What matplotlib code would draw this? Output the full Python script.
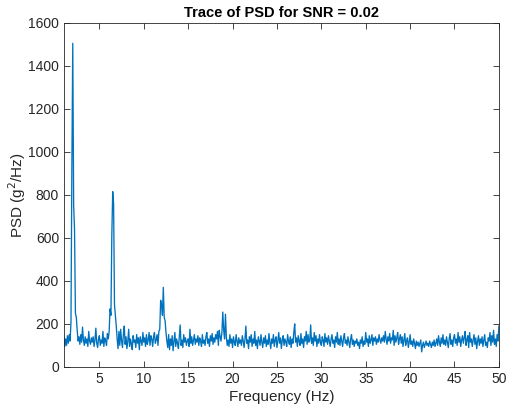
import numpy as np
import matplotlib.pyplot as plt

plt.rcParams['font.family'] = ['Liberation Sans', 'DejaVu Sans']

# frequency axis: 1 to 50 Hz, 0.1 Hz step
freq = np.round(np.arange(1.0, 50.05, 0.1), 1)

# PSD values (g^2/Hz), one row per Hz
psd = [
    140, 95, 130, 100, 145, 110, 150, 120, 210, 930,
    1505, 750, 640, 250, 230, 170, 120, 140, 105, 150,
    115, 185, 125, 100, 140, 110, 130, 95, 165, 120,
    105, 135, 115, 140, 95, 125, 180, 110, 90, 130,
    145, 100, 125, 110, 165, 95, 135, 120, 100, 155,
    130, 165, 270, 240, 610, 815, 760, 290, 240, 190,
    130, 85, 165, 100, 175, 120, 90, 150, 190, 105,
    140, 85, 120, 175, 95, 130, 110, 80, 145, 115,
    125, 90, 150, 110, 135, 80, 140, 120, 100, 160,
    115, 135, 95, 150, 105, 125, 160, 100, 145, 130,
    95, 140, 160, 110, 125, 150, 100, 165, 175, 310,
    290, 240, 370, 230, 215, 160, 120, 90, 150, 80,
    130, 100, 145, 75, 115, 160, 95, 130, 110, 85,
    140, 195, 100, 125, 90, 150, 115, 135, 100, 120,
    130, 95, 175, 110, 140, 100, 125, 150, 105, 130,
    115, 145, 100, 135, 120, 95, 150, 110, 125, 100,
    140, 160, 110, 130, 95, 145, 120, 155, 105, 135,
    115, 150, 130, 165, 100, 170, 140, 120, 160, 255,
    170, 130, 245, 140, 100, 125, 95, 150, 110, 130,
    90, 140, 115, 100, 150, 120, 95, 135, 110, 125,
    100, 145, 120, 90, 130, 190, 110, 125, 85, 140,
    115, 150, 95, 130, 110, 165, 100, 125, 85, 140,
    120, 100, 150, 115, 90, 135, 110, 145, 95, 125,
    105, 155, 115, 85, 130, 110, 150, 95, 125, 140,
    90, 120, 160, 110, 135, 85, 125, 145, 100, 130,
    115, 95, 150, 120, 105, 140, 90, 130, 110, 160,
    200, 115, 135, 95, 145, 120, 100, 155, 110, 130,
    90, 140, 120, 165, 105, 150, 115, 125, 195, 110,
    135, 100, 160, 120, 145, 95, 130, 110, 150, 115,
    100, 140, 125, 95, 155, 115, 135, 105, 145, 120,
    95, 130, 150, 110, 125, 90, 140, 115, 160, 105,
    130, 100, 145, 120, 95, 135, 155, 110, 125, 100,
    140, 115, 90, 130, 150, 105, 125, 95, 120, 110,
    130, 100, 115, 85, 125, 110, 140, 95, 120, 105,
    160, 115, 130, 95, 145, 110, 125, 150, 100, 135,
    120, 140, 105, 130, 115, 150, 125, 110, 135, 120,
    145, 115, 165, 130, 105, 140, 120, 155, 110, 135,
    125, 170, 100, 145, 115, 135, 160, 105, 130, 150,
    110, 140, 95, 125, 155, 100, 120, 135, 90, 115,
    150, 105, 120, 95, 130, 110, 85, 120, 100, 115,
    95, 110, 125, 70, 100, 115, 90, 105, 120, 100,
    110, 95, 120, 105, 90, 115, 100, 125, 95, 110,
    130, 100, 145, 115, 95, 135, 110, 150, 105, 125,
    100, 140, 115, 90, 130, 155, 105, 125, 95, 135,
    150, 110, 130, 100, 160, 115, 140, 95, 125, 145,
    110, 135, 165, 100, 125, 145, 90, 160, 115, 130,
    95, 125, 150, 105, 135, 85, 120, 145, 100, 130,
    110, 140, 95, 125, 150, 100, 115, 90, 135, 120,
    160, 100, 145, 115, 170, 105, 130, 95, 150, 120,
    190,
]

xticks = [5, 10, 15, 20, 25, 30, 35, 40, 45, 50]
yticks = [0, 200, 400, 600, 800, 1000, 1200, 1400, 1600]

fig = plt.figure(figsize=(5.07, 4.09), dpi=100)
ax = fig.add_axes([0.126, 0.103, 0.858, 0.841])

ax.plot(freq, psd, color='#0072BD', linewidth=0.95)

ax.set_xlim(1, 50)
ax.set_ylim(0, 1600)
ax.set_xticks(xticks)
ax.set_yticks(yticks)

ax.tick_params(direction='in', top=True, right=True, length=4, width=0.6,
               colors='#262626', labelsize=10)
for s in ax.spines.values():
    s.set_color('#262626')
    s.set_linewidth(0.6)

ax.set_title('Trace of PSD for SNR = 0.02', fontsize=10.5, fontweight='bold', pad=4)
ax.set_xlabel('Frequency (Hz)', fontsize=11, color='#262626', labelpad=3)
ax.set_ylabel('PSD (g$^2$/Hz)', fontsize=11, color='#262626', labelpad=0)

fig.savefig('out.png', dpi=100)
